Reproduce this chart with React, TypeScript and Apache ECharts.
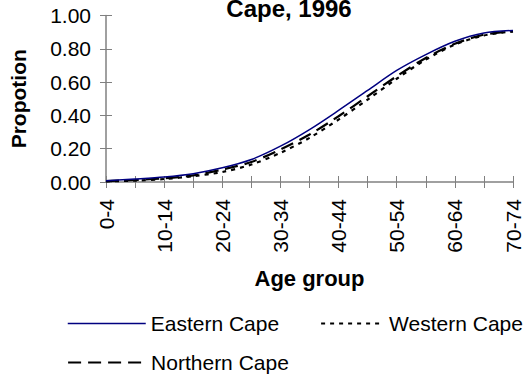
import React, { useEffect, useRef } from "react";
import * as echarts from "echarts";

const ageGroups = ["0-4", "5-9", "10-14", "15-19", "20-24", "25-29", "30-34", "35-39", "40-44", "45-49", "50-54", "55-59", "60-64", "65-69", "70-74"];
const easternCape = [0.008, 0.018, 0.03, 0.05, 0.085, 0.135, 0.215, 0.315, 0.43, 0.55, 0.67, 0.765, 0.845, 0.895, 0.91];
const westernCape = [0.004, 0.008, 0.018, 0.035, 0.06, 0.105, 0.175, 0.265, 0.375, 0.495, 0.62, 0.735, 0.825, 0.88, 0.905];
const northernCape = [0.005, 0.012, 0.022, 0.04, 0.075, 0.12, 0.195, 0.285, 0.395, 0.515, 0.635, 0.745, 0.83, 0.885, 0.905];

const FONT = "'Liberation Sans', Arial, sans-serif";
const AXIS = "#808080";

export default function App() {
  const ref = useRef<HTMLDivElement>(null);
  useEffect(() => {
    if (!ref.current) return;
    const chart = echarts.init(ref.current, null, { renderer: "svg" });
    const dotted = { type: [4, 5] as any, width: 2.2, color: "#000" };
    const dashed = { type: [13, 7] as any, width: 2.2, color: "#000" };
    const solid = { type: "solid" as any, width: 1.5, color: "#000080" };
    const hideSym = { opacity: 0 };
    const legendText = { fontFamily: FONT, fontSize: 21, color: "#000" };
    chart.setOption({
      animation: false,
      backgroundColor: "#fff",
      title: {
        text: "Cape, 1996",
        left: 284,
        textAlign: "center",
        top: -9,
        textStyle: { fontFamily: FONT, fontWeight: "bold", fontSize: 24, color: "#000" },
      },
      grid: { left: 93, right: 11, top: 15.5, bottom: 194, containLabel: false },
      xAxis: [
        {
          type: "category",
          data: ageGroups,
          boundaryGap: false,
          name: "Age group",
          nameLocation: "middle",
          nameGap: 85,
          nameTextStyle: { fontFamily: FONT, fontWeight: "bold", fontSize: 22, color: "#000" },
          axisLine: { lineStyle: { color: AXIS, width: 1.5 } },
          axisTick: { show: true, interval: 0, length: 6, lineStyle: { color: AXIS, width: 1 } },
          axisLabel: { interval: 1, rotate: 90, margin: 17, fontFamily: FONT, fontSize: 21, color: "#000" },
          splitLine: { show: false },
        },
        {
          type: "category",
          data: ageGroups,
          boundaryGap: false,
          position: "bottom",
          axisLine: { show: false },
          axisTick: { show: true, inside: true, interval: 0, length: 6, lineStyle: { color: AXIS, width: 1 } },
          axisLabel: { show: false },
          splitLine: { show: false },
        },
      ],
      yAxis: [
        {
          type: "value",
          min: 0,
          max: 1,
          interval: 0.2,
          name: "Propotion",
          nameLocation: "middle",
          nameGap: 77,
          nameTextStyle: { fontFamily: FONT, fontWeight: "bold", fontSize: 21, color: "#000" },
          axisLine: { show: true, lineStyle: { color: AXIS, width: 1.5 } },
          axisTick: { show: true, length: 6, lineStyle: { color: AXIS, width: 1 } },
          axisLabel: { margin: 15, fontFamily: FONT, fontSize: 21, color: "#000", formatter: (v: number) => v.toFixed(2) },
          splitLine: { show: false },
        },
        {
          type: "value",
          min: 0,
          max: 1,
          interval: 0.2,
          position: "left",
          axisLine: { show: false },
          axisTick: { show: true, inside: true, length: 6, lineStyle: { color: AXIS, width: 1 } },
          axisLabel: { show: false },
          splitLine: { show: false },
        },
      ],
      legend: [
        {
          left: 62,
          top: 308,
          itemWidth: 78,
          itemHeight: 14,
          textStyle: legendText,
          data: [{ name: "Eastern Cape", lineStyle: solid, itemStyle: hideSym }],
        },
        {
          left: 315,
          top: 308,
          itemWidth: 63,
          itemHeight: 14,
          textStyle: legendText,
          data: [{ name: "Western Cape", lineStyle: dotted, itemStyle: hideSym }],
        },
        {
          left: 62,
          top: 347,
          itemWidth: 78,
          itemHeight: 14,
          textStyle: legendText,
          data: [{ name: "Northern Cape", lineStyle: dashed, itemStyle: hideSym }],
        },
      ],
      series: [
        { name: "Eastern Cape", type: "line", data: easternCape, smooth: 0.3, symbol: "none", lineStyle: solid, itemStyle: { color: "#000080" }, z: 3 },
        { name: "Western Cape", type: "line", data: westernCape, smooth: 0.3, symbol: "none", lineStyle: dotted, itemStyle: { color: "#000" }, z: 2 },
        { name: "Northern Cape", type: "line", data: northernCape, smooth: 0.3, symbol: "none", lineStyle: dashed, itemStyle: { color: "#000" }, z: 2 },
      ],
    });
    return () => chart.dispose();
  }, []);
  return <div ref={ref} style={{ width: 524, height: 376, position: "absolute", left: 0, top: 0 }} />;
}
